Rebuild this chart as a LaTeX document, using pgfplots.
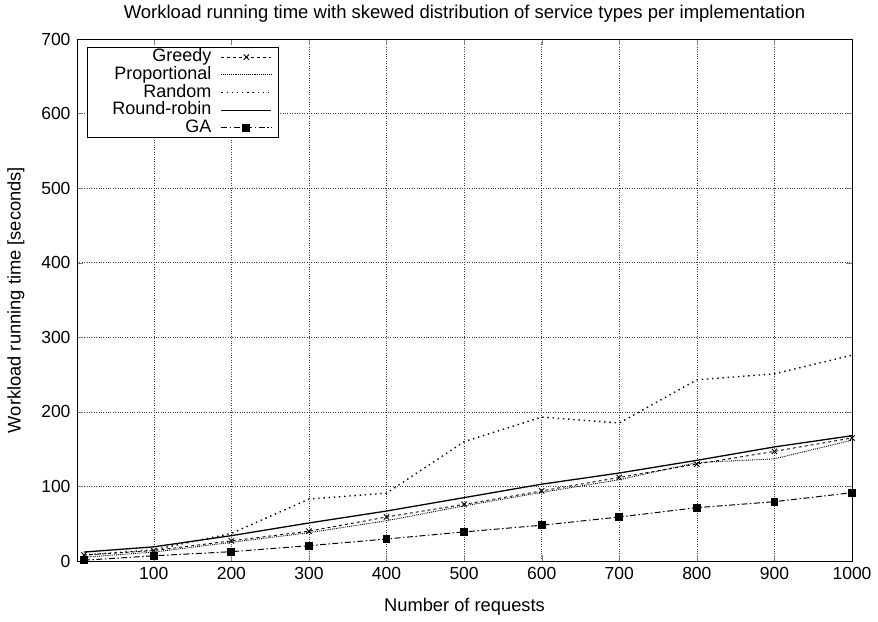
\documentclass[border=0pt]{standalone}
\usepackage{pgfplots}
\pgfplotsset{compat=1.18}
\usepackage{fontspec}
\setmainfont{Liberation Sans}
\begin{document}
\begin{tikzpicture}
\useasboundingbox (-77bp,-61bp) rectangle (801bp,561bp);
\begin{axis}[
  scale only axis, width=775bp, height=522bp,
  at={(0,0)}, anchor=south west,
  xmin=1, xmax=1000, ymin=0, ymax=700,
  xtick={100,200,...,1000}, ytick={0,100,...,700},
  /pgf/number format/assume math mode=true,
  /pgf/number format/1000 sep={},
  tick label style={font=\fontsize{17.5bp}{19bp}\selectfont},
  xticklabel style={yshift=-3bp},
  yticklabel style={xshift=-3bp},
  label style={font=\fontsize{18.3bp}{20bp}\selectfont},
  every axis title shift=0pt,
  title style={font=\fontsize{18.5bp}{20bp}\selectfont, at={(axis description cs:0.5,1.048)}, anchor=center},
  title={Workload running time with skewed distribution of service types per implementation},
  xlabel={Number of requests},
  ylabel={Workload running time [seconds]},
  xlabel style={at={(axis description cs:0.5,-0.088)}, anchor=center},
  ylabel style={at={(axis description cs:-0.0787,0.5)}, anchor=center},
  tick align=inside, tick pos=both,
  major tick length=6bp,
  grid=major,
  grid style={dotted, black!75, line width=0.5pt},
  axis line style={line width=0.9pt},
  legend plot pos=right,
  legend cell align=right,
  legend style={at={(10bp,514bp)}, anchor=north west, draw=black, line width=0.6pt,
    font=\fontsize{18bp}{19bp}\selectfont, row sep=0bp, inner xsep=3bp, inner ysep=1bp,
    nodes={text height=13bp, text depth=4bp, inner ysep=0.35bp}},
  legend image code/.code={\path[draw=none,fill=none] (0bp,-0.5bp) rectangle (62bp,0.5bp);
    \draw[mark repeat=2,mark phase=2,#1] plot coordinates {(8bp,0bp) (33bp,0bp) (58bp,0bp)};},
  every axis plot/.append style={black},
]
\addplot[dashed, line width=0.9pt, mark=x, mark size=3.8bp, mark options={solid}]
 coordinates {(10,8) (100,14) (200,27) (300,40) (400,59) (500,76) (600,94) (700,112) (800,130) (900,147) (1000,165)};
\addlegendentry{Greedy}
\addplot[densely dotted, line width=0.9pt]
 coordinates {(10,5) (100,12) (200,25) (300,38) (400,54) (500,74) (600,92) (700,109) (800,132) (900,137) (1000,162)};
\addlegendentry{Proportional}
\addplot[line width=1.4pt, dash pattern=on 1.4pt off 3.8pt]
 coordinates {(10,8) (100,15) (200,37) (300,83) (400,91) (500,160) (600,193) (700,185) (800,243) (900,251) (1000,276)};
\addlegendentry{Random}
\addplot[solid, line width=1.3pt]
 coordinates {(10,12) (100,19) (200,34) (300,51) (400,67) (500,85) (600,103) (700,118) (800,135) (900,153) (1000,168)};
\addlegendentry{\hspace*{20bp}Round-robin}
\addplot[dash pattern=on 6pt off 2.5pt on 1.5pt off 2.5pt, line width=1pt, mark=square*, mark size=3.4bp, mark options={solid}]
 coordinates {(10,1) (100,7) (200,12.5) (300,20.5) (400,29.5) (500,39) (600,48) (700,59) (800,71.5) (900,79.5) (1000,91.6)};
\addlegendentry{GA}
\end{axis}
\end{tikzpicture}
\end{document}
